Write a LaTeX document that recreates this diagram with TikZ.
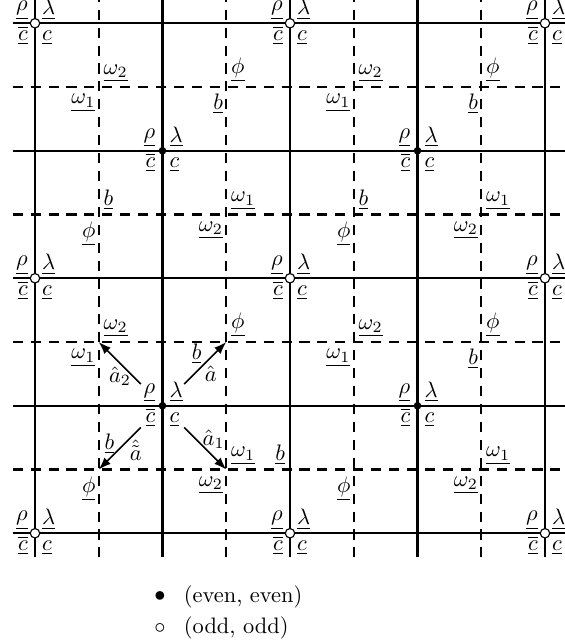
\documentclass[tikz,border=0pt]{standalone}
\usetikzlibrary{arrows.meta}
\begin{document}
\begin{tikzpicture}[
  gridline/.style={line width=0.95pt},
  dashline/.style={line width=0.95pt, dash pattern=on 4.5pt off 3.5pt},
  arr/.style={line width=0.65pt, -{Latex[length=5.5pt,width=4pt]}, shorten <=0.48cm},
  nelab/.style={anchor=south west, inner sep=0pt, xshift=2pt, yshift=2pt},
  swlab/.style={anchor=north east, inner sep=0pt, xshift=-1.3pt, yshift=-3pt},
  ullab/.style={anchor=south east, inner sep=0pt, xshift=-3pt, yshift=1.5pt},
  urlab/.style={anchor=south west, inner sep=0pt, xshift=3pt, yshift=1.5pt},
  lllab/.style={anchor=base east, inner sep=0pt, xshift=-3pt, yshift=-7.5pt},
  lrlab/.style={anchor=base west, inner sep=0pt, xshift=3pt, yshift=-7.5pt},
  evendot/.style={circle, fill=black, inner sep=0pt, minimum size=3.4pt},
  odddot/.style={circle, draw=black, fill=white, line width=0.5pt, inner sep=0pt, minimum size=4.2pt},
  lab/.style={inner sep=0pt},
]
\useasboundingbox (-0.549,-1.737) rectangle (8.314,8.365);
% grid
\foreach \i in {0,2,4,6,8} {
  \draw[gridline] (-0.35,\i) -- (8.4,\i);
  \draw[gridline] (\i,-0.38) -- (\i,8.4);
}
\foreach \i in {1,3,5,7} {
  \draw[dashline] (-0.35,\i) -- (8.4,\i);
  \draw[dashline] (\i,-0.38) -- (\i,8.4);
}
\foreach \x in {1,3,5,7} \foreach \y in {1,3,5,7} \coordinate (d-\x-\y) at (\x,\y);
% vertices with labels
\foreach \x/\y/\s in {0/0/odddot,4/0/odddot,8/0/odddot,0/4/odddot,4/4/odddot,8/4/odddot,0/8/odddot,4/8/odddot,8/8/odddot,2/2/evendot,6/2/evendot,2/6/evendot,6/6/evendot} {
  \node[\s] (v-\x-\y) at (\x,\y) {};
  \node[ullab] (ul-\x-\y) at (\x,\y) {$\underline{\rho}$};
  \node[urlab] (ur-\x-\y) at (\x,\y) {$\underline{\lambda}$};
  \node[lllab] (ll-\x-\y) at (\x,\y) {$\underline{\overline{c}}$};
  \node[lrlab] (lr-\x-\y) at (\x,\y) {$\underline{c}$};
}
% labels at dashed crossings
\foreach \x/\y/\t in {1/7/\omega_2,3/7/\phi,5/7/\omega_2,7/7/\phi,
  1/5/b,3/5/\omega_1,5/5/b,7/5/\omega_1,
  1/3/\omega_2,3/3/\phi,5/3/\omega_2,7/3/\phi,
  3/1/\omega_1,7/1/\omega_1}
  \node[nelab] (ne-\x-\y) at (d-\x-\y) {$\underline{\t}$};
\foreach \x/\y/\t in {1/7/\omega_1,3/7/b,5/7/\omega_1,7/7/b,
  1/5/\phi,3/5/\omega_2,5/5/\phi,7/5/\omega_2,
  1/3/\omega_1,5/3/\omega_1,7/3/b,
  1/1/\phi,3/1/\omega_2,5/1/\phi,7/1/\omega_2}
  \node[swlab] (sw-\x-\y) at (d-\x-\y) {$\underline{\t}$};
\coordinate (s-4-1) at (4,1);
\node[anchor=south east, inner sep=0pt, xshift=-2pt, yshift=2pt] (nw-4-1) at (s-4-1) {$\underline{b}$};
% arrows
\draw[arr] (v-2-2.center) -- (d-1-3);
\draw[arr] (v-2-2.center) -- (d-3-3);
\draw[arr] (v-2-2.center) -- (d-3-1);
\draw[arr] (v-2-2.center) -- (d-1-1);
\node[lab] (l-b1) at (2.536,2.81) {$\underline{b}$};
\node[lab] (l-ah) at (2.757,2.496) {$\hat{a}$};
\node[lab] (l-a2) at (1.333,2.46) {$\hat{a}_2$};
\node[lab] (l-a1) at (2.803,1.476) {$\hat{a}_1$};
\node[lab] (l-b2) at (1.169,1.398) {$\underline{b}$};
\node[lab] (l-at) at (1.582,1.307) {$\hat{\tilde{a}}$};
% legend
\node (leg-e-dot) at (1.96,-1.0) {$\bullet$};
\node[anchor=west, inner sep=0pt] (leg-e) at (2.33,-1.0) {(even, even)};
\node (leg-o-dot) at (1.96,-1.49) {$\circ$};
\node[anchor=west, inner sep=0pt] (leg-o) at (2.33,-1.49) {(odd, odd)};
\end{tikzpicture}
\end{document}
